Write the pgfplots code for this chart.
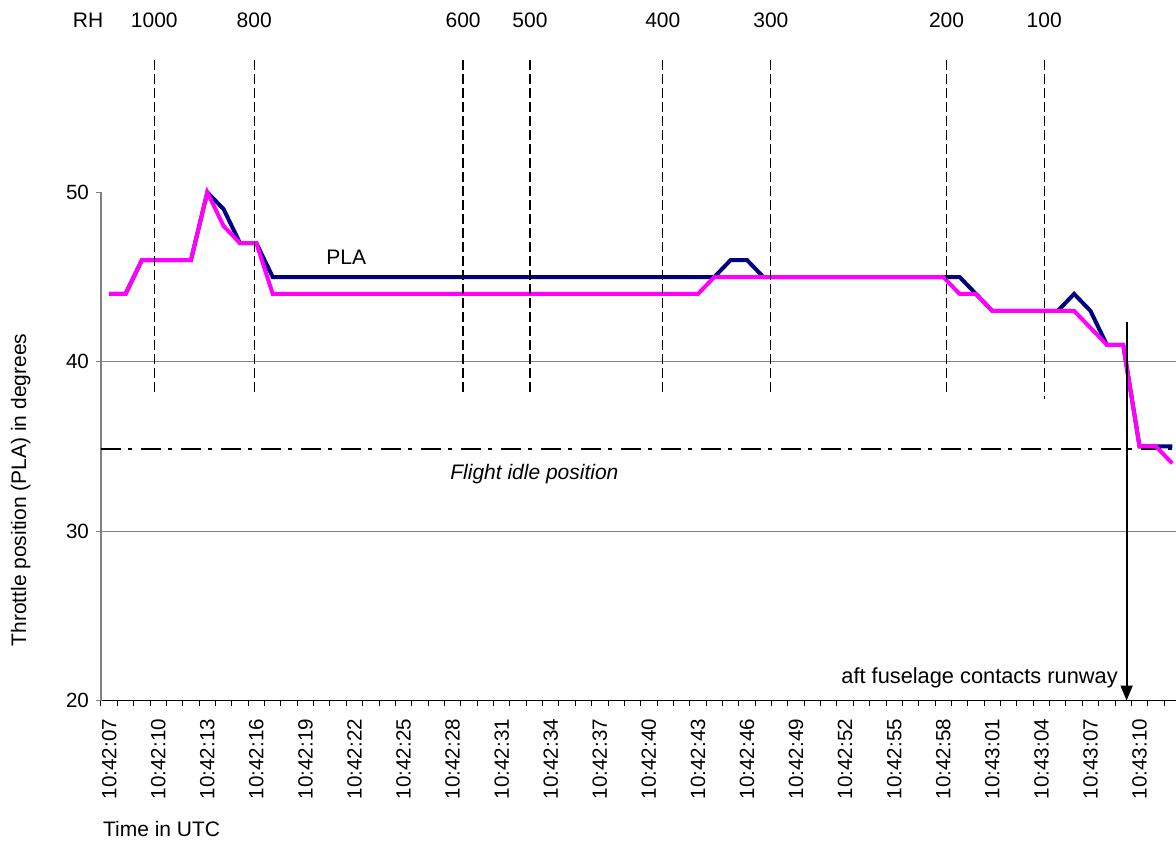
\documentclass[border=0pt]{standalone}
\usepackage{pgfplots}
\pgfplotsset{compat=1.18}
\usetikzlibrary{arrows.meta}
\usepackage{fontspec}
\setmainfont{Liberation Sans}
\definecolor{navyline}{RGB}{0,0,128}
\definecolor{pinkline}{RGB}{255,0,255}
\definecolor{axgray}{RGB}{128,128,128}
\pgfplotstableread{
i n p
0 44 44
1 44 44
2 46 46
3 46 46
4 46 46
5 46 46
6 50 50
7 49 48
8 47 47
9 47 47
10 45 44
11 45 44
12 45 44
13 45 44
14 45 44
15 45 44
16 45 44
17 45 44
18 45 44
19 45 44
20 45 44
21 45 44
22 45 44
23 45 44
24 45 44
25 45 44
26 45 44
27 45 44
28 45 44
29 45 44
30 45 44
31 45 44
32 45 44
33 45 44
34 45 44
35 45 44
36 45 44
37 45 45
38 46 45
39 46 45
40 45 45
41 45 45
42 45 45
43 45 45
44 45 45
45 45 45
46 45 45
47 45 45
48 45 45
49 45 45
50 45 45
51 45 45
52 45 44
53 44 44
54 43 43
55 43 43
56 43 43
57 43 43
58 43 43
59 44 43
60 43 42
61 41 41
62 41 41
63 35 35
64 35 35
65 35 34
}\pla
\begin{document}
\begin{tikzpicture}
\useasboundingbox (-50.5pt,-71.25pt) rectangle (537.5pt,350.25pt);
\begin{axis}[
  at={(0pt,0pt)}, anchor=south west,
  scale only axis, width=537.5pt, height=254.1pt,
  xmin=-0.5, xmax=65.23, ymin=20, ymax=50,
  axis x line*=bottom, axis y line*=left,
  x axis line style={black, line width=0.6pt},
  y axis line style={axgray, line width=0.6pt},
  xtick={0,3,...,63},
  xticklabels={\mbox{10:42:07},\mbox{10:42:10},\mbox{10:42:13},\mbox{10:42:16},\mbox{10:42:19},\mbox{10:42:22},\mbox{10:42:25},\mbox{10:42:28},\mbox{10:42:31},\mbox{10:42:34},\mbox{10:42:37},\mbox{10:42:40},\mbox{10:42:43},\mbox{10:42:46},\mbox{10:42:49},\mbox{10:42:52},\mbox{10:42:55},\mbox{10:42:58},\mbox{10:43:01},\mbox{10:43:04},\mbox{10:43:07},\mbox{10:43:10}},
  every major x tick/.style={draw=none},
  minor xtick={-0.5,0.5,...,64.5},
  every minor x tick/.style={black, line width=0.5pt},
  minor tick length=2.5pt,
  major tick length=2.5pt,
  tick align=outside,
  ytick={20,30,40,50},
  every major y tick/.style={axgray, line width=0.5pt},
  extra y ticks={30,40}, extra y tick labels={},
  extra y tick style={grid=major, major tick length=0pt},
  grid style={axgray, line width=0.6pt},
  tick label style={font=\fontsize{10.3}{12}\selectfont},
  xticklabel style={rotate=90, anchor=east, inner sep=0pt},
  xticklabel shift=6.5pt,
  /pgf/number format/assume math mode=true,
  clip=false,
]
\addplot[black, line width=1.3pt, dash pattern=on 10pt off 3.5pt on 2pt off 4.5pt] coordinates {(-0.5,34.85) (65.23,34.85)};
\addplot[navyline, line width=2pt] table[x=i, y=n] {\pla};
\addplot[pinkline, line width=2pt] table[x=i, y=p] {\pla};
\draw[black, line width=0.6pt, dash pattern=on 5pt off 2pt] (axis cs:2.76,57.81) -- (axis cs:2.76,38.03);
\draw[black, line width=0.6pt, dash pattern=on 5pt off 2pt] (axis cs:8.87,57.81) -- (axis cs:8.87,38.03);
\draw[black, line width=0.6pt, dash pattern=on 5pt off 2pt] (axis cs:21.64,57.81) -- (axis cs:21.64,38.1);
\draw[black, line width=0.6pt, dash pattern=on 5pt off 2pt] (axis cs:25.73,57.81) -- (axis cs:25.73,38.03);
\draw[black, line width=0.6pt, dash pattern=on 5pt off 2pt] (axis cs:33.85,57.81) -- (axis cs:33.85,38.03);
\draw[black, line width=0.6pt, dash pattern=on 5pt off 2pt] (axis cs:40.46,57.81) -- (axis cs:40.46,38.03);
\draw[black, line width=0.6pt, dash pattern=on 5pt off 2pt] (axis cs:51.20,57.81) -- (axis cs:51.20,38.03);
\draw[black, line width=0.6pt, dash pattern=on 5pt off 2pt] (axis cs:57.17,57.81) -- (axis cs:57.17,37.8);
\begin{scope}[every node/.style={font=\fontsize{10.5}{12}\selectfont, anchor=base, inner sep=0pt}]
\node at (axis cs:-1.29,59.73) {RH};
\node at (axis cs:2.76,59.73) {1000};
\node at (axis cs:8.87,59.73) {800};
\node at (axis cs:21.64,59.73) {600};
\node at (axis cs:25.73,59.73) {500};
\node at (axis cs:33.85,59.73) {400};
\node at (axis cs:40.46,59.73) {300};
\node at (axis cs:51.20,59.73) {200};
\node at (axis cs:57.17,59.73) {100};
\node at (axis cs:14.5,45.75) {PLA};
\node at (axis cs:26.0,33.02) {\itshape Flight idle position};
\node[anchor=base east, font=\fontsize{10.9}{12}\selectfont] at (axis cs:61.69,21.02) {aft fuselage contacts runway};
\end{scope}
\draw[black, line width=1pt, -{Triangle[width=6pt,length=7.5pt]}] (axis cs:62.21,42.36) -- (axis cs:62.21,20);
\end{axis}
\node[rotate=90, font=\fontsize{10.5}{12}\selectfont, inner sep=0pt] at (-40.15pt,105.25pt) {Throttle position (PLA) in degrees};
\node[anchor=base west, font=\fontsize{10.5}{12}\selectfont, inner sep=0pt] at (0.85pt,-68.1pt) {Time in UTC};
\end{tikzpicture}
\end{document}
